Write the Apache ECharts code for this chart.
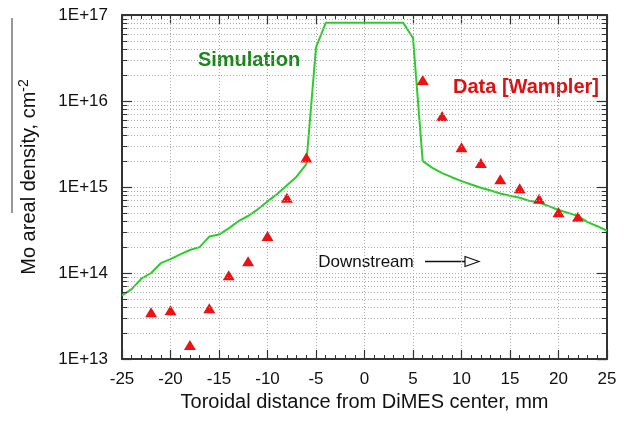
<!DOCTYPE html>
<html>
<head>
<meta charset="utf-8">
<script src="https://cdn.jsdelivr.net/npm/echarts@6/dist/echarts.min.js"></script>
<style>
  html, body { margin: 0; padding: 0; background: #fff; }
  #chart { width: 628px; height: 422px; }
</style>
</head>
<body>
<div id="chart"></div>
<script>
// Simulation curve (mm, cm^-2)
const simX = [-25, -24, -23, -22, -21, -20, -19, -18, -17, -16, -15, -14, -13, -12, -11, -10, -9, -8, -7, -6,
    -5, -4, 4, 5, 6, 7, 8, 9, 10, 11, 12, 13, 14, 15, 16, 17, 18, 19, 20, 21, 22, 23, 24, 25];
const simY = [5.5e13, 6.5e13, 8.6e13, 1.0e14, 1.3e14, 1.45e14, 1.65e14, 1.85e14, 2.0e14, 2.65e14, 2.8e14, 3.3e14,
    4.0e14, 4.6e14, 5.5e14, 6.8e14, 8.3e14, 1.05e15, 1.32e15, 1.85e15,
    4.2e16, 8.1e16, 8.1e16, 5.4e16, 2.0e15, 1.67e15, 1.45e15, 1.3e15, 1.17e15, 1.07e15, 9.8e14, 9.1e14, 8.4e14,
    7.9e14, 7.5e14, 6.9e14, 6.6e14, 6.0e14, 5.4e14, 5.0e14, 4.6e14, 3.9e14, 3.5e14, 3.1e14];

// Measured data [Wampler]
const dataX = [-22, -20, -18, -16, -14, -12, -10, -8, -6, 6, 8, 10, 12, 14, 16, 18, 20, 22];
const dataY = [3.5e13, 3.7e13, 1.45e13, 3.9e13, 9.4e13, 1.37e14, 2.7e14, 7.5e14, 2.2e15,
    1.75e16, 6.7e15, 2.9e15, 1.9e15, 1.23e15, 9.7e14, 7.3e14, 5.1e14, 4.5e14];

// log-axis minor positions
const decades = [1e13, 1e14, 1e15, 1e16];
const minorMult = [2, 3, 4, 5, 6, 7, 8, 9];

const xMin = -25, xMax = 25;
const minorVals = [];
decades.forEach(d => minorMult.forEach(m => minorVals.push(m * d)));

const FONT = 'Liberation Sans, Arial, Helvetica, sans-serif';
const frame = { color: '#333', width: 2 };
const gridStyle = { color: '#aaa', type: [1, 2], width: 1 };
const tickStyle = { color: '#333', type: 'solid', width: 1 };

const gridLines = minorVals.map(v => ({ yAxis: v, lineStyle: gridStyle }));
const minorTicksLeft = minorVals.map(v => [{ coord: [xMin, v], lineStyle: tickStyle }, { coord: [xMin + 0.55, v] }]);
const minorTicksRight = minorVals.map(v => [{ coord: [xMax - 0.55, v], lineStyle: tickStyle }, { coord: [xMax, v] }]);

const chart = echarts.init(document.getElementById('chart'));

const option = {
    animation: false,
    backgroundColor: '#fff',
    textStyle: { fontFamily: FONT },
    grid: { left: 122, right: 21, top: 15, bottom: 63 },
    xAxis: [
        {
            type: 'value', min: xMin, max: xMax, interval: 5, position: 'bottom',
            axisLine: { onZero: false, lineStyle: frame },
            axisTick: { inside: true, length: 9, lineStyle: { color: '#333', width: 1.2 } },
            minorTick: { show: true, splitNumber: 5, length: 4, lineStyle: { color: '#333', width: 1 } },
            axisLabel: { color: '#111', fontSize: 17, margin: 12, fontFamily: FONT },
            splitLine: { show: true, lineStyle: gridStyle },
            name: 'Toroidal distance from DiMES center, mm',
            nameLocation: 'middle', nameGap: 30,
            nameTextStyle: { color: '#111', fontSize: 20, fontFamily: FONT }
        },
        {
            type: 'value', min: xMin, max: xMax, interval: 5, position: 'top',
            axisLine: { onZero: false, lineStyle: frame },
            axisTick: { inside: true, length: 9, lineStyle: { color: '#333', width: 1.2 } },
            minorTick: { show: true, splitNumber: 5, length: 4, lineStyle: { color: '#333', width: 1 } },
            axisLabel: { show: false },
            splitLine: { show: false }
        }
    ],
    yAxis: [
        {
            type: 'log', logBase: 10, min: 1e13, max: 1e17, splitNumber: 4, position: 'left',
            axisLine: { onZero: false, lineStyle: frame },
            axisTick: { inside: true, length: 10, lineStyle: { color: '#333', width: 1.2 } },
            axisLabel: {
                color: '#111', fontSize: 17, margin: 14, fontFamily: FONT,
                formatter: v => '1E+' + Math.round(Math.log10(v))
            },
            splitLine: { show: true, lineStyle: gridStyle }
        },
        {
            type: 'log', logBase: 10, min: 1e13, max: 1e17, splitNumber: 4, position: 'right',
            axisLine: { onZero: false, lineStyle: frame },
            axisTick: { inside: true, length: 10, lineStyle: { color: '#333', width: 1.2 } },
            axisLabel: { show: false },
            splitLine: { show: false }
        }
    ],
    series: [
        {
            // minor grid + minor ticks on the log axis
            name: 'grid', type: 'line', data: [], silent: true, z: 1,
            markLine: {
                silent: true, symbol: 'none', animation: false,
                label: { show: false },
                emphasis: { disabled: true },
                data: [...gridLines, ...minorTicksLeft, ...minorTicksRight]
            }
        },
        {
            name: 'Simulation', type: 'line', z: 3,
            data: simX.map((x, i) => [x, simY[i]]),
            showSymbol: false,
            lineStyle: { color: '#2ccc2c', width: 2 },
            itemStyle: { color: '#2ccc2c' }
        },
        {
            name: 'Data [Wampler]', type: 'scatter', z: 4,
            data: dataX.map((x, i) => [x, dataY[i]]),
            symbol: 'triangle', symbolSize: [12, 10],
            itemStyle: { color: '#ee1111', opacity: 1 }
        }
    ],
    graphic: [
        {
            type: 'line', silent: true,
            shape: { x1: 12, y1: 18, x2: 12, y2: 213 },
            style: { stroke: '#777', lineWidth: 1.5 }
        },
        {
            type: 'text', x: 29, y: 177, rotation: Math.PI / 2, silent: true,
            style: {
                text: '{a|Mo areal density, cm}{b|-2}',
                align: 'center', verticalAlign: 'middle',
                rich: {
                    a: { fontSize: 20, lineHeight: 24, fontFamily: FONT, fill: '#111' },
                    b: { fontSize: 14, lineHeight: 24, verticalAlign: 'top', fontFamily: FONT, fill: '#111' }
                }
            }
        },
        {
            type: 'text', x: 249, y: 60, silent: true,
            style: { text: 'Simulation', fill: '#158a15', lineWidth: 0, font: 'bold 20px ' + FONT, align: 'center', verticalAlign: 'middle' }
        },
        {
            type: 'text', x: 526, y: 87, silent: true,
            style: { text: 'Data [Wampler]', fill: '#dd1111', lineWidth: 0, font: 'bold 20px ' + FONT, align: 'center', verticalAlign: 'middle' }
        },
        {
            type: 'text', x: 366, y: 262, silent: true,
            style: { text: 'Downstream', fill: '#111', font: '17px ' + FONT, align: 'center', verticalAlign: 'middle' }
        },
        {
            type: 'line', silent: true,
            shape: { x1: 425, y1: 261.5, x2: 466, y2: 261.5 },
            style: { stroke: '#111', lineWidth: 1.3 }
        },
        {
            type: 'polygon', silent: true,
            shape: { points: [[465, 256.5], [479, 261.5], [465, 266.5]] },
            style: { fill: '#fff', stroke: '#111', lineWidth: 1.2 }
        }
    ]
};

chart.setOption(option);
</script>
</body>
</html>
